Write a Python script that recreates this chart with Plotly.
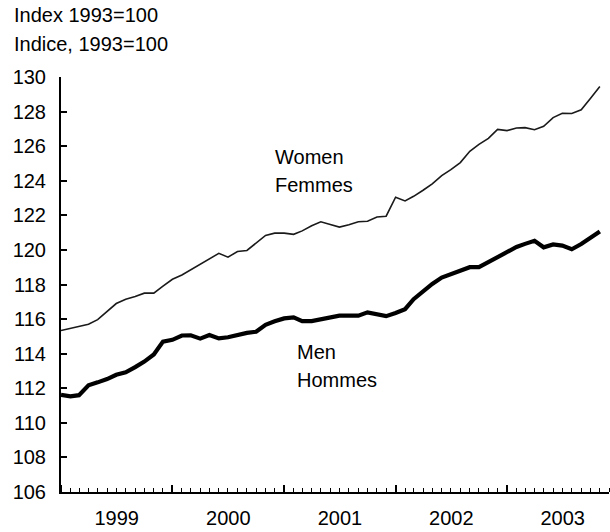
import pandas as pd
import plotly.graph_objects as go

# monthly index, Jan 1999 - Nov 2003
months = pd.date_range("1999-01-01", periods=59, freq="MS")

women = [115.34, 115.46, 115.57, 115.70, 115.97, 116.47, 116.90, 117.15, 117.30, 117.50,
         117.50, 117.90, 118.30, 118.55, 118.85, 119.14, 119.44, 119.80, 119.58, 119.91,
         119.97, 120.40, 120.84, 120.97, 120.97, 120.90, 121.10, 121.40, 121.63, 121.47,
         121.32, 121.45, 121.63, 121.66, 121.90, 121.95, 123.05, 122.83, 123.10, 123.45,
         123.82, 124.30, 124.64, 125.05, 125.70, 126.10, 126.45, 126.97, 126.90, 127.05,
         127.07, 126.95, 127.15, 127.65, 127.90, 127.89, 128.10, 128.75, 129.45]

men = [111.62, 111.53, 111.60, 112.17, 112.34, 112.53, 112.78, 112.92, 113.22, 113.54,
       113.95, 114.70, 114.80, 115.05, 115.06, 114.87, 115.08, 114.88, 114.95, 115.10,
       115.20, 115.27, 115.67, 115.87, 116.04, 116.10, 115.88, 115.88, 115.99, 116.06,
       116.20, 116.20, 116.20, 116.39, 116.30, 116.17, 116.35, 116.57, 117.15, 117.60,
       118.03, 118.40, 118.60, 118.81, 119.00, 119.00, 119.30, 119.55, 119.90, 120.17,
       120.35, 120.53, 120.15, 120.32, 120.25, 120.04, 120.34, 120.73, 121.07]

font = "Liberation Sans, Arial, Helvetica, sans-serif"

fig = go.Figure()
fig.add_trace(go.Scatter(x=months, y=women, mode="lines",
                         line=dict(color="#1a1a1a", width=1.6), showlegend=False))
fig.add_trace(go.Scatter(x=months, y=men, mode="lines",
                         line=dict(color="black", width=4.2), showlegend=False))

# series labels
fig.add_annotation(text="Women", x=0.386, xref="paper", y=125.37, yref="y",
                   xanchor="left", showarrow=False)
fig.add_annotation(text="Femmes", x=0.386, xref="paper", y=123.73, yref="y",
                   xanchor="left", showarrow=False)
fig.add_annotation(text="Men", x=0.4267, xref="paper", y=114.08, yref="y",
                   xanchor="left", showarrow=False)
fig.add_annotation(text="Hommes", x=0.4267, xref="paper", y=112.48, yref="y",
                   xanchor="left", showarrow=False)

# unit lines top left
fig.add_annotation(text="Index 1993=100", x=-0.09, xref="paper", y=1.1486, yref="paper",
                   xanchor="left", yanchor="middle", showarrow=False)
fig.add_annotation(text="Indice, 1993=100", x=-0.09, xref="paper", y=1.0787, yref="paper",
                   xanchor="left", yanchor="middle", showarrow=False)

fig.update_layout(
    width=610, height=532,
    margin=dict(l=61, r=1, t=77, b=40),
    paper_bgcolor="white", plot_bgcolor="white",
    font=dict(family=font, size=20, color="black"),
    xaxis=dict(
        range=["1999-01-01", "2003-12-01"],
        tick0="1999-01-01", dtick="M12", tickformat="%Y",
        ticklabelmode="period", ticks="inside", ticklen=7, tickwidth=1.5,
        tickcolor="black", showline=True, linecolor="black", linewidth=2,
        showgrid=False, zeroline=False,
        minor=dict(dtick="M1", ticks="inside", ticklen=4, tickwidth=1.2,
                   tickcolor="black", showgrid=False),
        ticklabelstandoff=7,
    ),
    yaxis=dict(
        range=[106, 130], dtick=2, ticks="inside", ticklen=6, tickwidth=1.5,
        tickcolor="black", showline=True, linecolor="black", linewidth=2,
        showgrid=False, zeroline=False, ticklabelstandoff=9,
    ),
)

# drop the default page margin so the figure sits at the window's corner
fig.write_html("out.html", config={"displayModeBar": False},
               post_script="document.body.style.margin='0';")
